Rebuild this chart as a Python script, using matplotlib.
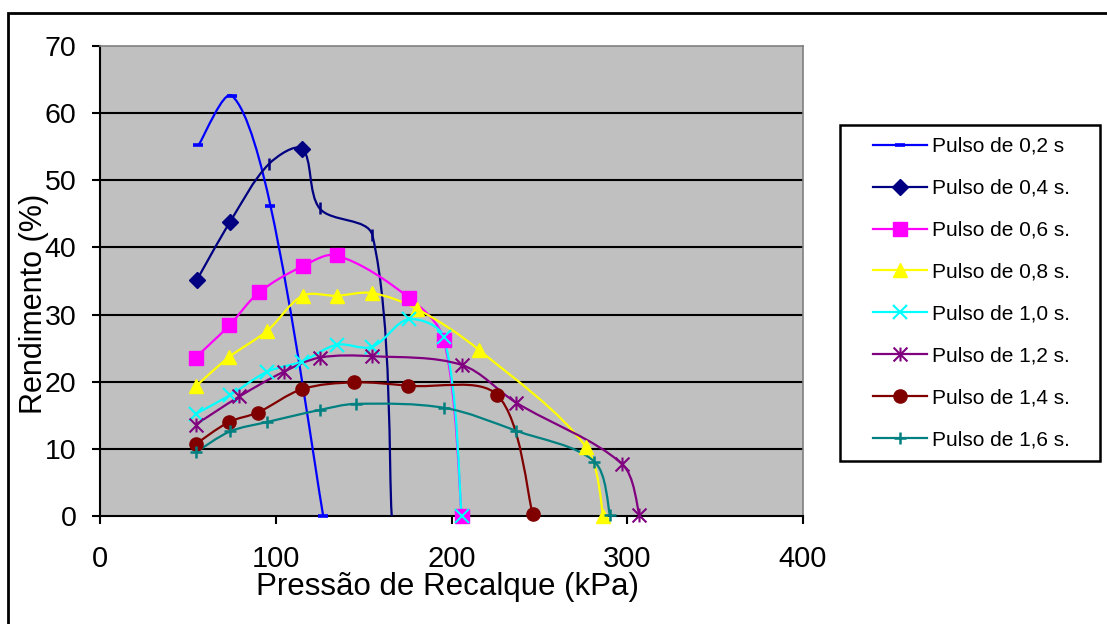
import matplotlib
matplotlib.use("Agg")
import matplotlib.pyplot as plt
from matplotlib.path import Path
from matplotlib.patches import PathPatch, Rectangle
from matplotlib.lines import Line2D
import numpy as np

plt.rcParams['font.family'] = ['Liberation Sans', 'DejaVu Sans']

# ---- data ----
labels = ["Pulso de 0,2 s", "Pulso de 0,4 s.", "Pulso de 0,6 s.", "Pulso de 0,8 s.",
          "Pulso de 1,0 s.", "Pulso de 1,2 s.", "Pulso de 1,4 s.", "Pulso de 1,6 s."]

x02 = [56, 75, 97, 127]
y02 = [55.2, 62.6, 46.2, 0.0]

x04 = [55, 74, 96, 115, 125, 155, 166]
y04 = [35.1, 43.8, 52.4, 54.7, 45.8, 41.8, 0.0]

x06 = [54.4, 73.6, 90.5, 115.3, 134.7, 175.8, 195.7, 205.8]
y06 = [23.6, 28.4, 33.3, 37.2, 38.8, 32.5, 26.2, 0.0]

x08 = [54.4, 73.6, 95.2, 115.3, 134.7, 154.8, 180.6, 215.8, 276.5, 286.4]
y08 = [19.3, 23.7, 27.6, 32.8, 32.8, 33.2, 30.8, 24.7, 10.3, 0.0]

x10 = [54.4, 74.0, 95.2, 114.8, 134.7, 154.8, 175.6, 195.7, 205.8]
y10 = [15.2, 18.0, 21.5, 23.0, 25.5, 25.2, 29.3, 26.6, 0.0]

x12 = [54.4, 79.3, 104.7, 125.2, 154.8, 205.8, 236.7, 297.2, 306.9]
y12 = [13.6, 17.8, 21.5, 23.6, 23.8, 22.5, 16.9, 7.7, 0.2]

x14 = [54.4, 73.4, 89.7, 115.1, 144.5, 175.2, 226.1, 246.2]
y14 = [10.7, 14.0, 15.4, 18.9, 19.9, 19.4, 18.0, 0.3]

x16 = [54.6, 74.0, 95.2, 125.2, 145.5, 196.0, 236.7, 281.3, 290.2]
y16 = [9.5, 12.6, 14.0, 15.8, 16.7, 16.1, 12.7, 8.1, 0.1]

xticks = [0, 100, 200, 300, 400]
yticks = [0, 10, 20, 30, 40, 50, 60, 70]
xlabel = "Pressão de Recalque (kPa)"
ylabel = "Rendimento (%)"

# ---- styles ----
colors = ["#0000FF", "#000080", "#FF00FF", "#FFFF00", "#00FFFF", "#800080", "#800000", "#008080"]
asterisk = Path([(0, -1), (0, 1), (-1, -1), (1, 1), (-1, 1), (1, -1)],
                [Path.MOVETO, Path.LINETO, Path.MOVETO, Path.LINETO, Path.MOVETO, Path.LINETO])

W, H = 1107, 624
fig = plt.figure(figsize=(W / 100, H / 100), dpi=100)
ax = fig.add_axes([100 / W, (H - 516) / H, 703 / W, 470 / H])
ax.set_facecolor("#C0C0C0")
ax.set_xlim(0, 400)
ax.set_ylim(0, 70)


def smooth_path(xs, ys):
    """Smoothed line: cubic Bezier segments through the data points,
    tangents weighted by chord length measured in display space."""
    pts = ax.transData.transform(np.column_stack([xs, ys]).astype(float))
    n = len(pts)
    verts = [pts[0]]
    codes = [Path.MOVETO]
    for i in range(n - 1):
        p0 = pts[i - 1] if i > 0 else pts[i]
        p1 = pts[i]
        p2 = pts[i + 1]
        p3 = pts[i + 2] if i + 2 < n else pts[i + 1]
        d01 = np.hypot(*(p1 - p0))
        d12 = np.hypot(*(p2 - p1))
        d23 = np.hypot(*(p3 - p2))
        f1 = d12 / (d01 + d12) / 3.0 if d01 > 0 else 1 / 6.0
        f2 = d12 / (d12 + d23) / 3.0 if d23 > 0 else 1 / 6.0
        c1 = p1 + (p2 - p0) * f1
        c2 = p2 - (p3 - p1) * f2
        verts += [c1, c2, p2]
        codes += [Path.CURVE4] * 3
    verts = ax.transData.inverted().transform(np.array(verts))
    return Path(verts, codes)


def draw_line(xs, ys, color, z):
    ax.add_patch(PathPatch(smooth_path(xs, ys), facecolor="none", edgecolor=color,
                           lw=1.6, zorder=z, clip_on=False))


series = [(x02, y02), (x04, y04), (x06, y06), (x08, y08),
          (x10, y10), (x12, y12), (x14, y14), (x16, y16)]
for k, (xs, ys) in enumerate(series):
    draw_line(xs, ys, colors[k], 3 + k * 0.1)

mk = [
    dict(marker="_", ms=6.5, mew=2.6),
    dict(marker="D", ms=7.8, mew=1),
    dict(marker="s", ms=10.5, mew=1),
    dict(marker="^", ms=10, mew=1),
    dict(marker="x", ms=10, mew=1.5),
    dict(marker=asterisk, ms=10, mew=1.5),
    dict(marker="o", ms=9.5, mew=1),
    dict(marker="+", ms=9, mew=1.8),
]

# markers
ax.plot(x02, y02, ls="none", color=colors[0], zorder=5, clip_on=False, **mk[0])
dia_idx = [0, 1, 3]
tick_idx = [2, 4, 5]
ax.plot([x04[i] for i in dia_idx], [y04[i] for i in dia_idx], ls="none",
        color=colors[1], zorder=5.1, clip_on=False, **mk[1])
ax.plot([x04[i] for i in tick_idx], [y04[i] for i in tick_idx], ls="none",
        color=colors[1], marker="|", ms=8.5, mew=1.8, zorder=5.1, clip_on=False)
for k in range(2, 8):
    xs, ys = series[k]
    ax.plot(xs, ys, ls="none", color=colors[k], zorder=5 + k * 0.1, clip_on=False, **mk[k])

# axes styling
ax.set_xticks(xticks)
ax.set_yticks(yticks)
ax.set_xticklabels([str(v) for v in xticks], fontsize=21)
ax.set_yticklabels([str(v) for v in yticks], fontsize=20.5)
ax.tick_params(axis="both", direction="out", length=6, width=1.5, color="black")
ax.tick_params(axis="y", pad=11)
ax.tick_params(axis="x", pad=15)
for v in yticks[1:-1]:
    ax.axhline(v, color="black", lw=1.5, zorder=1)
ax.spines["left"].set_color("black")
ax.spines["left"].set_linewidth(1.5)
ax.spines["bottom"].set_color("black")
ax.spines["bottom"].set_linewidth(1.5)
ax.spines["top"].set_color("#808080")
ax.spines["top"].set_linewidth(1.2)
ax.spines["right"].set_color("#808080")
ax.spines["right"].set_linewidth(1.2)
for s in ax.spines.values():
    s.set_zorder(2)

# axis titles
fig.text(448 / W, 1 - 587 / H, xlabel, fontsize=22.5, ha="center", va="center")
fig.text(34 / W, 1 - 304 / H, ylabel, fontsize=22, ha="center", va="center", rotation=90)

# legend
handles = []
for k in range(8):
    handles.append(Line2D([], [], color=colors[k], lw=1.6, **mk[k]))
leg = fig.legend(handles, labels, loc="upper left",
                 bbox_to_anchor=(873 / W, 1 - 137 / H), frameon=False,
                 fontsize=15, handlelength=2.6, handletextpad=0.25,
                 labelspacing=1.1, borderpad=0, borderaxespad=0, numpoints=1)
fig.patches.append(Rectangle((840 / W, 1 - 461 / H), 260 / W, 336 / H,
                             transform=fig.transFigure, fill=False,
                             edgecolor="black", lw=1.8))

# outer chart border
fig.patches.append(Rectangle((7.5 / W, -0.05), 1.2, 1.05 - 13 / H,
                             transform=fig.transFigure, fill=False,
                             edgecolor="black", lw=2))

fig.savefig("out.png", dpi=100)
